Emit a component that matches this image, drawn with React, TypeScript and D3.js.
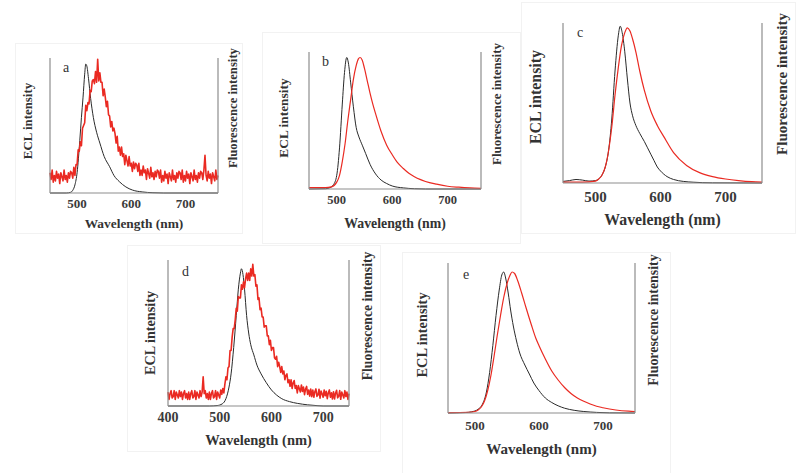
import React from "react";
import * as d3 from "d3";

// ---------- data (normalized intensities) ----------
type P = [number, number];

const ticksABC = [500, 600, 700];
const ticksD = [400, 500, 600, 700];
const ticksE = [500, 600, 700];

const xLabel = "Wavelength (nm)";
const yLabelLeft = "ECL intensity";
const yLabelRight = "Fluorescence intensity";
const panelLetters = ["a", "b", "c", "d", "e"];

const eclA: P[] = [[450,0],[480,0],[488,0.005],[492,0.02],[496,0.06],[500,0.15],[505,0.39],[508,0.56],[511,0.71],[514,0.88],[516,0.955],[518,0.94],[521,0.85],[525,0.7],[530,0.56],[536,0.45],[542,0.37],[550,0.27],[560,0.195],[568,0.13],[578,0.084],[590,0.045],[602,0.022],[620,0.008],[640,0.002],[660,0],[760,0]];

// noisy fluorescence of panel a, 450..760 nm every 2 nm
const flA: number[] = [
0.15,0.10,0.17,0.08,0.13,0.09,0.16,0.11,0.14,0.07,0.15,0.12,0.09,0.17,0.10,0.13,0.08,0.15,0.11,0.16,
0.15,0.11,0.19,0.13,0.21,0.21,0.32,0.31,0.38,0.35,0.48,0.50,0.52,0.65,0.61,0.67,0.66,0.76,0.75,0.83,
0.84,0.81,0.90,0.82,0.99,0.83,0.89,0.82,0.82,0.72,0.77,0.71,0.64,0.68,0.58,0.57,0.49,0.53,0.46,0.48,
0.44,0.37,0.42,0.31,0.34,0.28,0.34,0.27,0.29,0.21,0.28,0.24,0.20,0.27,0.20,0.22,0.16,0.23,0.18,0.22,
0.21,0.16,0.22,0.13,0.17,0.13,0.20,0.15,0.17,0.10,0.18,0.145,0.11,0.19,0.12,0.15,0.10,0.16,0.12,0.17,
0.16,0.11,0.17,0.08,0.13,0.09,0.16,0.11,0.14,0.07,0.15,0.12,0.09,0.17,0.10,0.13,0.08,0.15,0.11,0.16,
0.15,0.10,0.17,0.08,0.13,0.09,0.16,0.11,0.14,0.07,0.15,0.12,0.09,0.17,0.10,0.13,0.08,0.15,0.11,0.16,
0.15,0.10,0.17,0.28,0.13,0.09,0.16,0.11,0.14,0.07,0.15,0.12,0.09,0.17,0.10,0.13
];

const eclB: P[] = [[450,0],[480,0.002],[488,0.01],[494,0.03],[500,0.1],[505,0.3],[510,0.62],[514,0.85],[518,0.96],[521,0.92],[525,0.78],[530,0.6],[535,0.45],[540,0.38],[546,0.32],[552,0.26],[560,0.18],[570,0.11],[580,0.065],[590,0.04],[600,0.022],[620,0.008],[640,0.002],[660,0],[760,0]];
const flB: P[] = [[450,0.01],[480,0.01],[490,0.015],[500,0.05],[505,0.1],[510,0.2],[515,0.33],[520,0.5],[525,0.65],[530,0.8],[535,0.9],[539,0.95],[542,0.96],[546,0.94],[550,0.88],[555,0.79],[560,0.7],[565,0.62],[570,0.55],[580,0.42],[590,0.32],[600,0.25],[610,0.19],[620,0.15],[630,0.115],[640,0.09],[650,0.07],[660,0.055],[680,0.035],[700,0.02],[720,0.013],[740,0.008],[760,0.005]];

const eclC: P[] = [[450,0.01],[460,0.015],[470,0.022],[480,0.018],[490,0.012],[500,0.015],[505,0.025],[510,0.05],[515,0.1],[520,0.2],[525,0.4],[530,0.7],[535,0.92],[538,0.98],[541,0.94],[545,0.82],[549,0.65],[553,0.5],[557,0.42],[562,0.36],[568,0.31],[575,0.26],[580,0.22],[585,0.18],[590,0.14],[595,0.1],[600,0.075],[610,0.04],[620,0.022],[635,0.01],[650,0.005],[680,0.001],[756,0]];
const flC: P[] = [[450,0.005],[480,0.005],[500,0.012],[505,0.025],[510,0.05],[515,0.1],[520,0.2],[525,0.35],[530,0.55],[535,0.72],[540,0.86],[545,0.94],[549,0.97],[553,0.95],[557,0.9],[562,0.82],[568,0.7],[575,0.58],[585,0.45],[595,0.36],[605,0.29],[620,0.19],[640,0.11],[660,0.065],[680,0.04],[700,0.025],[720,0.015],[740,0.008],[756,0.005]];

const eclD: P[] = [[400,0],[480,0],[495,0.003],[505,0.015],[512,0.05],[518,0.13],[522,0.22],[527,0.4],[532,0.62],[536,0.8],[540,0.91],[542,0.94],[545,0.9],[548,0.8],[552,0.62],[556,0.5],[560,0.42],[566,0.35],[572,0.28],[580,0.22],[590,0.16],[600,0.11],[610,0.075],[620,0.05],[635,0.03],[650,0.018],[670,0.008],[690,0.002],[700,0],[750,0]];

// noisy fluorescence of panel d, 400..750 nm every 2 nm
const flD: number[] = [
0.095,0.045,0.085,0.105,0.055,0.065,0.105,0.045,0.095,0.075,0.055,0.105,0.065,0.095,0.045,0.085,0.105,0.055,0.085,0.045,
0.095,0.045,0.085,0.105,0.055,0.065,0.105,0.045,0.095,0.075,0.055,0.105,0.065,0.095,0.20,0.085,0.105,0.055,0.085,0.045,
0.095,0.045,0.085,0.105,0.055,0.065,0.105,0.045,0.095,0.075,0.055,0.11,0.08,0.12,0.09,0.15,0.20,0.18,0.26,0.27,
0.38,0.38,0.47,0.53,0.53,0.59,0.67,0.65,0.75,0.74,0.74,0.83,0.80,0.85,0.81,0.87,0.91,0.86,0.91,0.86,
0.94,0.89,0.97,0.89,0.90,0.82,0.83,0.73,0.74,0.66,0.67,0.61,0.61,0.54,0.55,0.55,0.48,0.48,0.42,0.45,
0.38,0.40,0.40,0.33,0.32,0.34,0.27,0.30,0.27,0.23,0.27,0.22,0.24,0.18,0.21,0.22,0.16,0.18,0.135,0.18,
0.12,0.158,0.174,0.12,0.14,0.09,0.14,0.118,0.096,0.144,0.10,0.13,0.078,0.116,0.134,0.08,0.11,0.068,0.116,0.064,
0.11,0.06,0.098,0.117,0.066,0.075,0.115,0.054,0.103,0.082,0.06,0.11,0.07,0.10,0.05,0.09,0.11,0.06,0.09,0.048,
0.098,0.048,0.088,0.108,0.056,0.066,0.106,0.046,0.095,0.075,0.055,0.105,0.065,0.095,0.045,0.085
];

const eclE: P[] = [[458,0],[485,0.003],[495,0.008],[505,0.025],[512,0.06],[518,0.14],[523,0.27],[528,0.45],[533,0.65],[538,0.82],[542,0.92],[545,0.94],[548,0.9],[552,0.8],[556,0.68],[560,0.58],[565,0.48],[570,0.4],[578,0.32],[585,0.26],[592,0.2],[600,0.15],[610,0.1],[620,0.07],[630,0.048],[640,0.032],[655,0.018],[670,0.01],[690,0.004],[710,0.001],[750,0]];
const flE: P[] = [[458,0.003],[490,0.005],[500,0.01],[505,0.02],[510,0.04],[515,0.08],[520,0.15],[525,0.25],[530,0.38],[535,0.52],[540,0.65],[545,0.77],[550,0.86],[555,0.92],[558,0.94],[562,0.93],[567,0.88],[573,0.8],[580,0.7],[588,0.59],[595,0.5],[600,0.45],[610,0.36],[620,0.28],[630,0.22],[640,0.17],[650,0.13],[660,0.1],[670,0.078],[680,0.06],[690,0.045],[700,0.035],[720,0.02],[740,0.012],[750,0.01]];

const gridA = d3.range(450, 761, 2);
const gridD = d3.range(400, 751, 2);

// ---------- layout ----------
interface Panel {
  letter: string;
  box: [number, number, number, number];
  x0: number; x1: number; yTop: number; yBot: number;
  domain: [number, number];
  ticks: number[];
  tickY: number; labelY: number;
  tickFs: number; labelFs: number; eclFs: number; flFs: number;
  eclX: number; eclCY: number; flX: number; flCY: number;
  letterX: number; letterY: number;
  ecl: P[]; fl: P[]; noisy: boolean;
}

const zip = (g: number[], v: number[]): P[] => v.map((y, i) => [g[i], y]);

const panels: Panel[] = [
  { letter: panelLetters[0], box: [15, 43, 242, 233], x0: 50, x1: 218, yTop: 58, yBot: 193, domain: [450, 760], ticks: ticksABC,
    tickY: 208, labelY: 228, tickFs: 13, labelFs: 13.4, eclFs: 12.9, flFs: 12.7,
    eclX: 28, eclCY: 121, flX: 233, flCY: 108, letterX: 63, letterY: 72, ecl: eclA, fl: zip(gridA, flA), noisy: true },
  { letter: panelLetters[1], box: [262, 32, 520, 243], x0: 309, x1: 481, yTop: 52, yBot: 189, domain: [450, 760], ticks: ticksABC,
    tickY: 204, labelY: 228, tickFs: 12.5, labelFs: 13.8, eclFs: 13.4, flFs: 12.9,
    eclX: 283, eclCY: 118, flX: 497, flCY: 104, letterX: 322, letterY: 66, ecl: eclB, fl: flB, noisy: false },
  { letter: panelLetters[2], box: [521, 2, 795, 233], x0: 563, x1: 762, yTop: 23, yBot: 183, domain: [450, 756], ticks: ticksABC,
    tickY: 202, labelY: 225, tickFs: 15, labelFs: 15.8, eclFs: 15.9, flFs: 15,
    eclX: 535, eclCY: 97, flX: 782, flCY: 84, letterX: 577, letterY: 37, ecl: eclC, fl: flC, noisy: false },
  { letter: panelLetters[3], box: [127, 245, 380, 451], x0: 168, x1: 349, yTop: 260, yBot: 406, domain: [400, 750], ticks: ticksD,
    tickY: 422, labelY: 445, tickFs: 14, labelFs: 14.5, eclFs: 14.2, flFs: 13.6,
    eclX: 150, eclCY: 333, flX: 367, flCY: 316, letterX: 182, letterY: 276, ecl: eclD, fl: zip(gridD, flD), noisy: true },
  { letter: panelLetters[4], box: [402, 252, 670, 473], x0: 448, x1: 635, yTop: 263, yBot: 413, domain: [458, 750], ticks: ticksE,
    tickY: 430, labelY: 454, tickFs: 13, labelFs: 15, eclFs: 14.4, flFs: 13.9,
    eclX: 422, eclCY: 335, flX: 653, flCY: 320, letterX: 463, letterY: 279, ecl: eclE, fl: flE, noisy: false },
];

const FONT = "'Liberation Serif', 'Times New Roman', serif";
const AXIS = "#8e8e8e";
const RED = "#ea2a22";

function PanelView({ p }: { p: Panel }) {
  const x = d3.scaleLinear().domain(p.domain).range([p.x0, p.x1]);
  const y = d3.scaleLinear().domain([0, 1]).range([p.yBot, p.yTop]);
  const smooth = d3.line<P>().x((d) => x(d[0])).y((d) => y(d[1])).curve(d3.curveMonotoneX);
  const raw = d3.line<P>().x((d) => x(d[0])).y((d) => y(d[1]));
  const [bx0, by0, bx1, by1] = p.box;
  return (
    <g>
      <rect x={bx0 + 0.5} y={by0 + 0.5} width={bx1 - bx0} height={by1 - by0} fill="none" stroke="#f2f2f2" strokeWidth={1} />
      <path d={smooth(p.ecl) || ""} fill="none" stroke="#2a2a2a" strokeWidth={1} />
      <path d={(p.noisy ? raw(p.fl) : smooth(p.fl)) || ""} fill="none" stroke={RED} strokeWidth={p.noisy ? 1.6 : 1.2} strokeLinejoin="round" />
      <line x1={p.x0} x2={p.x0} y1={p.yTop} y2={p.yBot} stroke={AXIS} strokeWidth={1.2} />
      <line x1={p.x1} x2={p.x1} y1={p.yTop} y2={p.yBot} stroke={AXIS} strokeWidth={1.2} />
      <line x1={p.x0} x2={p.x1} y1={p.yBot} y2={p.yBot} stroke={AXIS} strokeWidth={1.2} />
      {p.ticks.map((t) => (
        <text key={t} x={x(t)} y={p.tickY} textAnchor="middle" fontFamily={FONT} fontWeight="bold" fontSize={p.tickFs} fill="#3a3a3a">{t}</text>
      ))}
      <text x={(p.x0 + p.x1) / 2} y={p.labelY} textAnchor="middle" fontFamily={FONT} fontWeight="bold" fontSize={p.labelFs} fill="#333">{xLabel}</text>
      <text transform={`translate(${p.eclX},${p.eclCY}) rotate(-90)`} textAnchor="middle" dominantBaseline="central" fontFamily={FONT} fontWeight="bold" fontSize={p.eclFs} fill="#333">{yLabelLeft}</text>
      <text transform={`translate(${p.flX},${p.flCY}) rotate(-90)`} textAnchor="middle" dominantBaseline="central" fontFamily={FONT} fontWeight="bold" fontSize={p.flFs} fill="#333">{yLabelRight}</text>
      <text x={p.letterX} y={p.letterY} fontFamily={FONT} fontSize={14} fill="#333">{p.letter}</text>
    </g>
  );
}

export default function App() {
  return (
    <svg width={800} height={473} style={{ position: "absolute", left: 0, top: 0, background: "#fff" }}>
      <rect width={800} height={473} fill="#fff" />
      {panels.map((p) => <PanelView key={p.letter} p={p} />)}
    </svg>
  );
}
